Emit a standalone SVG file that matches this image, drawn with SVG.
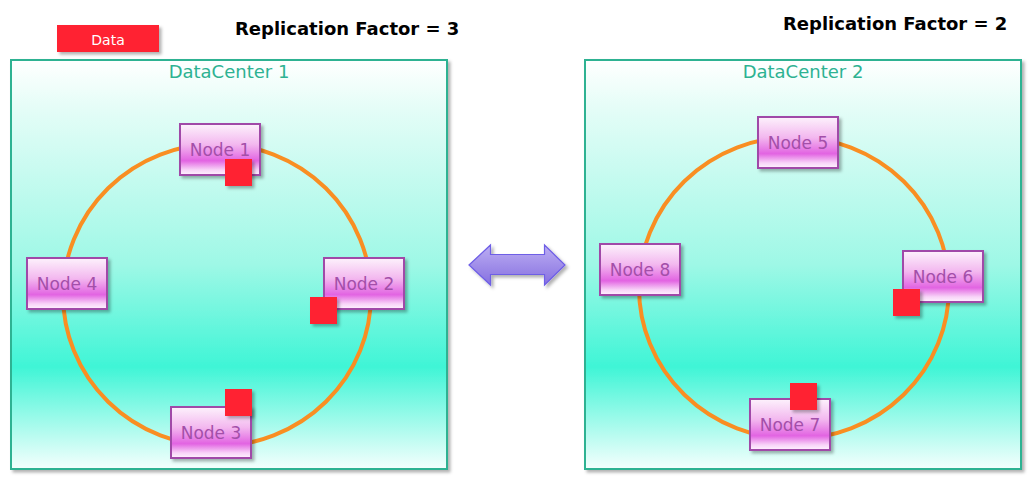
<svg xmlns="http://www.w3.org/2000/svg" width="1035" height="483" viewBox="0 0 1035 483">
<defs>
<linearGradient id="dcGrad" x1="0" y1="0" x2="0" y2="1">
<stop offset="0" stop-color="#ffffff"/>
<stop offset="0.12" stop-color="#e4fdf7"/>
<stop offset="0.5" stop-color="#9ef8e6"/>
<stop offset="0.75" stop-color="#3ff5d6"/>
<stop offset="1" stop-color="#f4fffd"/>
</linearGradient>
<linearGradient id="nodeGrad" x1="0" y1="0" x2="0" y2="1">
<stop offset="0" stop-color="#fdf2fc"/>
<stop offset="0.4" stop-color="#f3b8ef"/>
<stop offset="0.72" stop-color="#e264e2"/>
<stop offset="0.9" stop-color="#f8d4f8"/>
<stop offset="1" stop-color="#fff2ff"/>
</linearGradient>
<linearGradient id="arrowGrad" x1="0" y1="0" x2="0" y2="1">
<stop offset="0" stop-color="#bcaef3"/>
<stop offset="1" stop-color="#8670e0"/>
</linearGradient>
<filter id="shadow" x="-20%" y="-20%" width="140%" height="140%">
<feDropShadow dx="2.5" dy="2.5" stdDeviation="1.5" flood-color="#000000" flood-opacity="0.3"/>
</filter>
</defs>
<style>
.dc{fill:url(#dcGrad);stroke:#2db292;stroke-width:2;filter:url(#shadow)}
.dclabel{font-family:"DejaVu Sans",sans-serif;font-size:18px;fill:#2db292;text-anchor:middle}
.ring{fill:none;stroke:#f98e22;stroke-width:4}
.node rect{fill:url(#nodeGrad);stroke:#a04aa8;stroke-width:2;filter:url(#shadow)}
.node text{font-family:"DejaVu Sans",sans-serif;font-size:17px;fill:#a34fa9;text-anchor:middle}
.data{fill:#ff2230;filter:url(#shadow)}
.title{font-family:"DejaVu Sans",sans-serif;font-size:18px;font-weight:bold;fill:#000000}
</style>

<g id="data-legend">
<rect class="data" x="57" y="25" width="102" height="27"/>
<text x="108" y="45" font-family="DejaVu Sans, sans-serif" font-size="14" fill="#ffffff" text-anchor="middle">Data</text>
</g>
<text class="title" x="235" y="35">Replication Factor = 3</text>
<text class="title" x="783" y="30">Replication Factor = 2</text>

<g id="datacenter1">
<rect class="dc" x="11" y="60" width="436" height="409"/>
<text class="dclabel" x="229" y="78">DataCenter 1</text>
</g>
<g id="datacenter2">
<rect class="dc" x="585" y="60" width="436" height="409"/>
<text class="dclabel" x="803" y="78">DataCenter 2</text>
</g>

<g id="connectors">
<ellipse class="ring" cx="217" cy="295" rx="154" ry="151"/>
<ellipse class="ring" cx="794" cy="288" rx="155" ry="151"/>
<polygon points="469,265 490.5,245 490.5,254.5 544.5,254.5 544.5,245 565,265 544.5,285 544.5,274.5 490.5,274.5 490.5,285" fill="url(#arrowGrad)" stroke="#6e5ee6" stroke-width="1.2" filter="url(#shadow)"/>
</g>

<g id="node1" class="node"><rect x="180" y="124" width="80" height="51"/><text x="220" y="156">Node 1</text></g>
<g id="node2" class="node"><rect x="324" y="258" width="80" height="51"/><text x="364" y="290">Node 2</text></g>
<g id="node3" class="node"><rect x="171" y="407" width="80" height="51"/><text x="211" y="439">Node 3</text></g>
<g id="node4" class="node"><rect x="27" y="258" width="80" height="51"/><text x="67" y="290">Node 4</text></g>
<g id="node5" class="node"><rect x="758" y="117" width="80" height="51"/><text x="798" y="149">Node 5</text></g>
<g id="node6" class="node"><rect x="903" y="251" width="80" height="51"/><text x="943" y="283">Node 6</text></g>
<g id="node7" class="node"><rect x="750" y="399" width="80" height="51"/><text x="790" y="431">Node 7</text></g>
<g id="node8" class="node"><rect x="600" y="244" width="80" height="51"/><text x="640" y="276">Node 8</text></g>

<g id="replicas">
<rect class="data" x="225" y="159" width="27" height="27"/>
<rect class="data" x="310" y="297" width="27" height="27"/>
<rect class="data" x="225" y="389" width="27" height="27"/>
<rect class="data" x="893" y="289" width="27" height="27"/>
<rect class="data" x="790" y="383" width="27" height="27"/>
</g>
</svg>
